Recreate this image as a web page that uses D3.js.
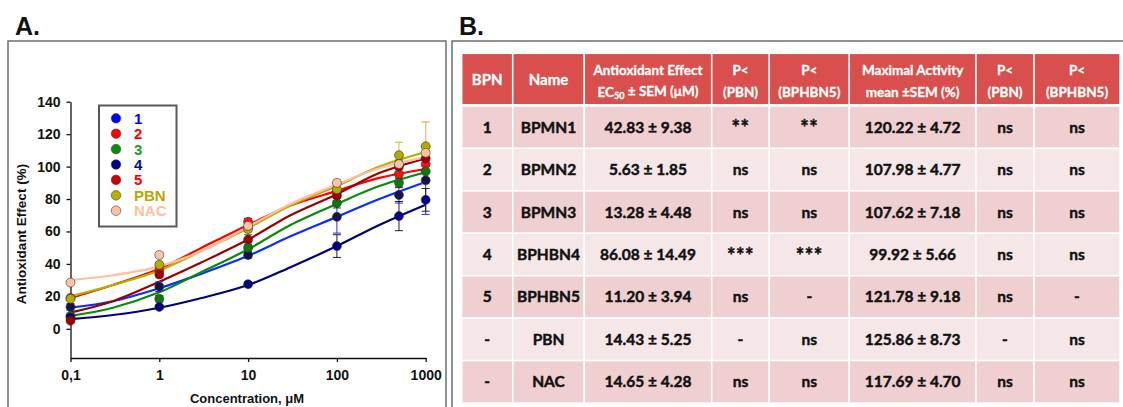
<!DOCTYPE html>
<html>
<head>
<meta charset="utf-8">
<script src="https://cdn.jsdelivr.net/npm/d3@7"></script>
<style>
  body { margin: 0; background: #fff; }
  svg { display: block; }
</style>
</head>
<body>
<svg id="fig" width="1123" height="407"></svg>
<script>
// ---------- Panel A: dose–response data (concentration µM, antioxidant effect %) ----------
const doses = [0.1, 1, 10, 100, 500, 1000];
const seriesNames = ["1", "2", "3", "4", "5", "PBN", "NAC"];

const effect1   = [13.5, 26, 45.5, 69, 82.5, 91.5];
const effect2   = [19, 36, 66, 84, 95.5, 101.5];
const effect3   = [8, 18.5, 50, 77.5, 90, 97];
const effect4   = [7, 13.5, 27.5, 51, 69.5, 79.5];
const effect5   = [5, 33.5, 55, 82, 100, 105];
const effectPBN = [18.5, 39.5, 61.5, 86, 107, 112.5];
const effectNAC = [28.5, 45.5, 63.5, 90, 101.5, 108.5];

const sem1   = [2, 3, 2, 10, 5, 21];
const sem2   = [1, 2, 2, 3, 3, 4];
const sem3   = [1, 2, 3, 3, 3, 4];
const sem4   = [1, 1, 1.5, 7, 9, 7];
const sem5   = [1, 2, 3, 3, 4, 5];
const semPBN = [1, 2, 2, 3, 8, 15];
const semNAC = [1, 1, 2, 2, 5, 19];

// fitted curves, sampled along the concentration axis
const fitDoses = [0.1, 0.3, 1, 3, 10, 30, 100, 300, 1000];
const fit1   = [13, 17, 25, 34, 45, 57, 69, 80, 90.5];
const fit2   = [19, 27, 37, 50, 64, 76, 85, 93, 98.5];
const fit3   = [8, 13, 22.5, 35, 49, 64, 77, 88, 96.5];
const fit4   = [6, 8.5, 13, 19, 27, 38, 51, 64, 76.5];
const fit5   = [10, 17, 29, 41, 55, 70, 83, 96, 105];
const fitPBN = [20, 27, 36, 48, 62, 76, 88, 100, 109];
const fitNAC = [30, 33, 38.5, 48, 63, 77, 89, 99, 106];

const xTickValues = [0.1, 1, 10, 100, 1000];
const xTickLabels = ["0,1", "1", "10", "100", "1000"];
const yTickValues = [0, 20, 40, 60, 80, 100, 120, 140];

// ---------- Panel B: summary table ----------
const bpnIds      = ["1", "2", "3", "4", "5", "-", "-"];
const compounds   = ["BPMN1", "BPMN2", "BPMN3", "BPHBN4", "BPHBN5", "PBN", "NAC"];
const ec50Mean    = [42.83, 5.63, 13.28, 86.08, 11.20, 14.43, 14.65];
const ec50Sem     = [9.38, 1.85, 4.48, 14.49, 3.94, 5.25, 4.28];
const pEc50VsPBN  = ["**", "ns", "ns", "***", "ns", "-", "ns"];
const pEc50VsBPHBN5 = ["**", "ns", "ns", "***", "-", "ns", "ns"];
const maxMean     = [120.22, 107.98, 107.62, 99.92, 121.78, 125.86, 117.69];
const maxSem      = [4.72, 4.77, 7.18, 5.66, 9.18, 8.73, 4.70];
const pMaxVsPBN   = ["ns", "ns", "ns", "ns", "ns", "-", "ns"];
const pMaxVsBPHBN5 = ["ns", "ns", "ns", "ns", "-", "ns", "ns"];
const headerLines = [
  ["BPN"], ["Name"], ["Antioxidant Effect", "EC50 ± SEM (μM)"], ["P<", "(PBN)"],
  ["P<", "(BPHBN5)"], ["Maximal Activity", "mean ±SEM (%)"], ["P<", "(PBN)"], ["P<", "(BPHBN5)"]
];

// ---------- styles ----------
const styles = {
  "1":   { line: "#0a2cff", point: "#14144a", bar: "#2a2aff", legend: "#0000ff", text: "#0000ff" },
  "2":   { line: "#ff0000", point: "#ff1010", bar: "#aa0000", legend: "#ff0000", text: "#ff0000" },
  "3":   { line: "#0a8a0a", point: "#0b7a0b", bar: "#333333", legend: "#0a8a0a", text: "#1aa01a" },
  "4":   { line: "#00007a", point: "#000080", bar: "#222222", legend: "#000090", text: "#0a0aa0" },
  "5":   { line: "#990000", point: "#a00000", bar: "#555555", legend: "#d00000", text: "#ff0000" },
  "PBN": { line: "#b5b000", point: "#b3ad00", bar: "#c8c030", legend: "#b8b000", text: "#b4a800" },
  "NAC": { line: "#ffbfa0", point: "#ffc3a6", bar: "#ffb494", legend: "#ffc0a0", text: "#ffc09c" }
};

const effects = [effect1, effect2, effect3, effect4, effect5, effectPBN, effectNAC];
const sems    = [sem1, sem2, sem3, sem4, sem5, semPBN, semNAC];
const fits    = [fit1, fit2, fit3, fit4, fit5, fitPBN, fitNAC];

const series = seriesNames.map((name, i) => ({
  name,
  style: styles[name],
  points: doses.map((d, j) => ({ dose: d, value: effects[i][j], sem: sems[i][j] })),
  fit: fitDoses.map((d, j) => ({ dose: d, value: fits[i][j] }))
}));

const svg = d3.select("#fig");
const axisFont = "'Liberation Sans', Arial, sans-serif";
const tableFont = "Lato, 'Open Sans', sans-serif";

// panel frames
svg.append("rect").attr("x", 8).attr("y", 41).attr("width", 438).attr("height", 400)
  .attr("fill", "none").attr("stroke", "#6e6e6e").attr("stroke-width", 1.5);
svg.append("rect").attr("x", 452).attr("y", 41).attr("width", 700).attr("height", 400)
  .attr("fill", "none").attr("stroke", "#6e6e6e").attr("stroke-width", 1.5);

svg.append("text").attr("x", 15).attr("y", 35).text("A.")
  .attr("font-family", axisFont).attr("font-weight", "bold").attr("font-size", 25).attr("fill", "#111");
svg.append("text").attr("x", 459).attr("y", 35).text("B.")
  .attr("font-family", axisFont).attr("font-weight", "bold").attr("font-size", 25).attr("fill", "#111");

// ---------- Panel A chart ----------
const x = d3.scaleLog().domain([0.1, 1000]).range([70.5, 425.7]);
const y = d3.scaleLinear().domain([-18, 140]).range([358, 101.7]);

const yAxis = svg.append("g").attr("transform", "translate(70.5,0)")
  .call(d3.axisLeft(y).tickValues(yTickValues).tickSize(4).tickPadding(6).tickSizeOuter(0));
const xAxis = svg.append("g").attr("transform", "translate(0,358)")
  .call(d3.axisBottom(x).tickValues(xTickValues).tickFormat((d, i) => xTickLabels[i])
    .tickSize(4).tickPadding(8).tickSizeOuter(0));
[yAxis, xAxis].forEach(g => {
  g.selectAll("path, line").attr("stroke", "#111").attr("stroke-width", 1.3);
  g.selectAll("text").attr("font-family", axisFont).attr("font-weight", "bold")
    .attr("font-size", 14).attr("fill", "#111");
});

svg.append("text")
  .attr("transform", "translate(21,234) rotate(-90)")
  .attr("text-anchor", "middle").attr("dominant-baseline", "central")
  .attr("font-family", axisFont).attr("font-weight", "bold").attr("font-size", 13.5)
  .attr("fill", "#111").text("Antioxidant Effect (%)");
svg.append("text")
  .attr("x", 247).attr("y", 403).attr("text-anchor", "middle")
  .attr("font-family", axisFont).attr("font-weight", "bold").attr("font-size", 13)
  .attr("fill", "#111").text("Concentration, μM");

const line = d3.line().x(d => x(d.dose)).y(d => y(d.value)).curve(d3.curveCatmullRom.alpha(0.5));

const plot = svg.append("g");
// fitted curves
plot.selectAll("path.fit").data(series).join("path")
  .attr("class", "fit")
  .attr("d", s => line(s.fit))
  .attr("fill", "none")
  .attr("stroke", s => s.style.line)
  .attr("stroke-width", 2.2);

// error bars and points
series.forEach(s => {
  const g = plot.append("g");
  const bars = g.selectAll("g.bar").data(s.points).join("g").attr("class", "bar");
  bars.append("line")
    .attr("x1", d => x(d.dose)).attr("x2", d => x(d.dose))
    .attr("y1", d => y(d.value - d.sem)).attr("y2", d => y(d.value + d.sem))
    .attr("stroke", s.style.bar).attr("stroke-width", 1);
  [-1, 1].forEach(k => {
    bars.append("line")
      .attr("x1", d => x(d.dose) - 4).attr("x2", d => x(d.dose) + 4)
      .attr("y1", d => y(d.value + k * d.sem)).attr("y2", d => y(d.value + k * d.sem))
      .attr("stroke", s.style.bar).attr("stroke-width", 1);
  });
});
series.forEach(s => {
  plot.append("g").selectAll("circle").data(s.points).join("circle")
    .attr("cx", d => x(d.dose)).attr("cy", d => y(d.value)).attr("r", 4.5)
    .attr("fill", s.style.point).attr("stroke", "#333").attr("stroke-width", 0.6);
});

// legend
const legend = svg.append("g");
legend.append("rect").attr("x", 99).attr("y", 105.5).attr("width", 77.5).attr("height", 121)
  .attr("fill", "#fff").attr("stroke", "#595959").attr("stroke-width", 2);
const items = legend.selectAll("g.item").data(series).join("g").attr("class", "item")
  .attr("transform", (s, i) => `translate(0,${118.3 + i * 15.4})`);
items.append("circle").attr("cx", 116).attr("cy", 0).attr("r", 4.8)
  .attr("fill", s => s.style.legend).attr("stroke", "#444").attr("stroke-width", 0.6);
items.append("text").attr("x", 134).attr("y", 0).attr("dy", "0.36em")
  .attr("font-family", axisFont).attr("font-weight", "bold").attr("font-size", 15)
  .attr("fill", s => s.style.text).text(s => s.name);

// ---------- Panel B table ----------
const tableLeft = 461.7;
const colWidths = [51, 71.6, 127.4, 57.6, 80, 126.7, 58, 86];
const colX = colWidths.reduce((acc, w, i) => { acc.push(acc[i] + w); return acc; }, [tableLeft]);
const headerTop = 53.3, headerH = 51.5, bodyTop = 106, rowH = 42.43;
const fmt = d3.format(".2f");

const rows = compounds.map((c, i) => [
  bpnIds[i], c,
  `${fmt(ec50Mean[i])} ± ${fmt(ec50Sem[i])}`,
  pEc50VsPBN[i], pEc50VsBPHBN5[i],
  `${fmt(maxMean[i])} ± ${fmt(maxSem[i])}`,
  pMaxVsPBN[i], pMaxVsBPHBN5[i]
]);

const table = svg.append("g");
// header cells
headerLines.forEach((lines, c) => {
  table.append("rect")
    .attr("x", colX[c]).attr("y", headerTop).attr("width", colWidths[c]).attr("height", headerH)
    .attr("fill", "#d84f4d").attr("stroke", "#fff").attr("stroke-width", 1.5);
  const cx = colX[c] + colWidths[c] / 2;
  const ys = lines.length === 1 ? [80] : [70, 92];
  lines.forEach((t, k) => {
    const txt = table.append("text").attr("x", cx).attr("y", ys[k]).attr("dy", "0.35em")
      .attr("text-anchor", "middle").attr("font-family", tableFont).attr("font-weight", "bold")
      .attr("font-size", lines.length === 1 ? 15 : 13.5).attr("fill", "#fff")
      .attr("stroke", "#fff").attr("stroke-width", 0.3);
    if (t.startsWith("EC50")) {
      txt.append("tspan").text("EC");
      txt.append("tspan").attr("font-size", 9).attr("dy", "0.25em").text("50");
      txt.append("tspan").attr("dy", "-0.25em").text(t.slice(4));
    } else {
      txt.text(t);
    }
  });
});

// body cells
rows.forEach((r, i) => {
  const top = bodyTop + i * rowH;
  r.forEach((val, c) => {
    table.append("rect")
      .attr("x", colX[c]).attr("y", top).attr("width", colWidths[c]).attr("height", rowH)
      .attr("fill", i % 2 === 0 ? "#efcfd0" : "#f5e6e7")
      .attr("stroke", "#fff").attr("stroke-width", 1.5);
    const isStars = /^\*+$/.test(val);
    table.append("text")
      .attr("x", colX[c] + colWidths[c] / 2)
      .attr("y", top + rowH / 2 + (isStars ? 1 : 0)).attr("dy", "0.35em")
      .attr("text-anchor", "middle").attr("font-family", tableFont).attr("font-weight", "bold")
      .attr("font-size", isStars ? 20 : 15.5).attr("fill", "#111")
      .attr("stroke", "#111").attr("stroke-width", 0.45)
      .attr("letter-spacing", isStars ? 0.5 : 0)
      .text(val);
  });
});
</script>
</body>
</html>
